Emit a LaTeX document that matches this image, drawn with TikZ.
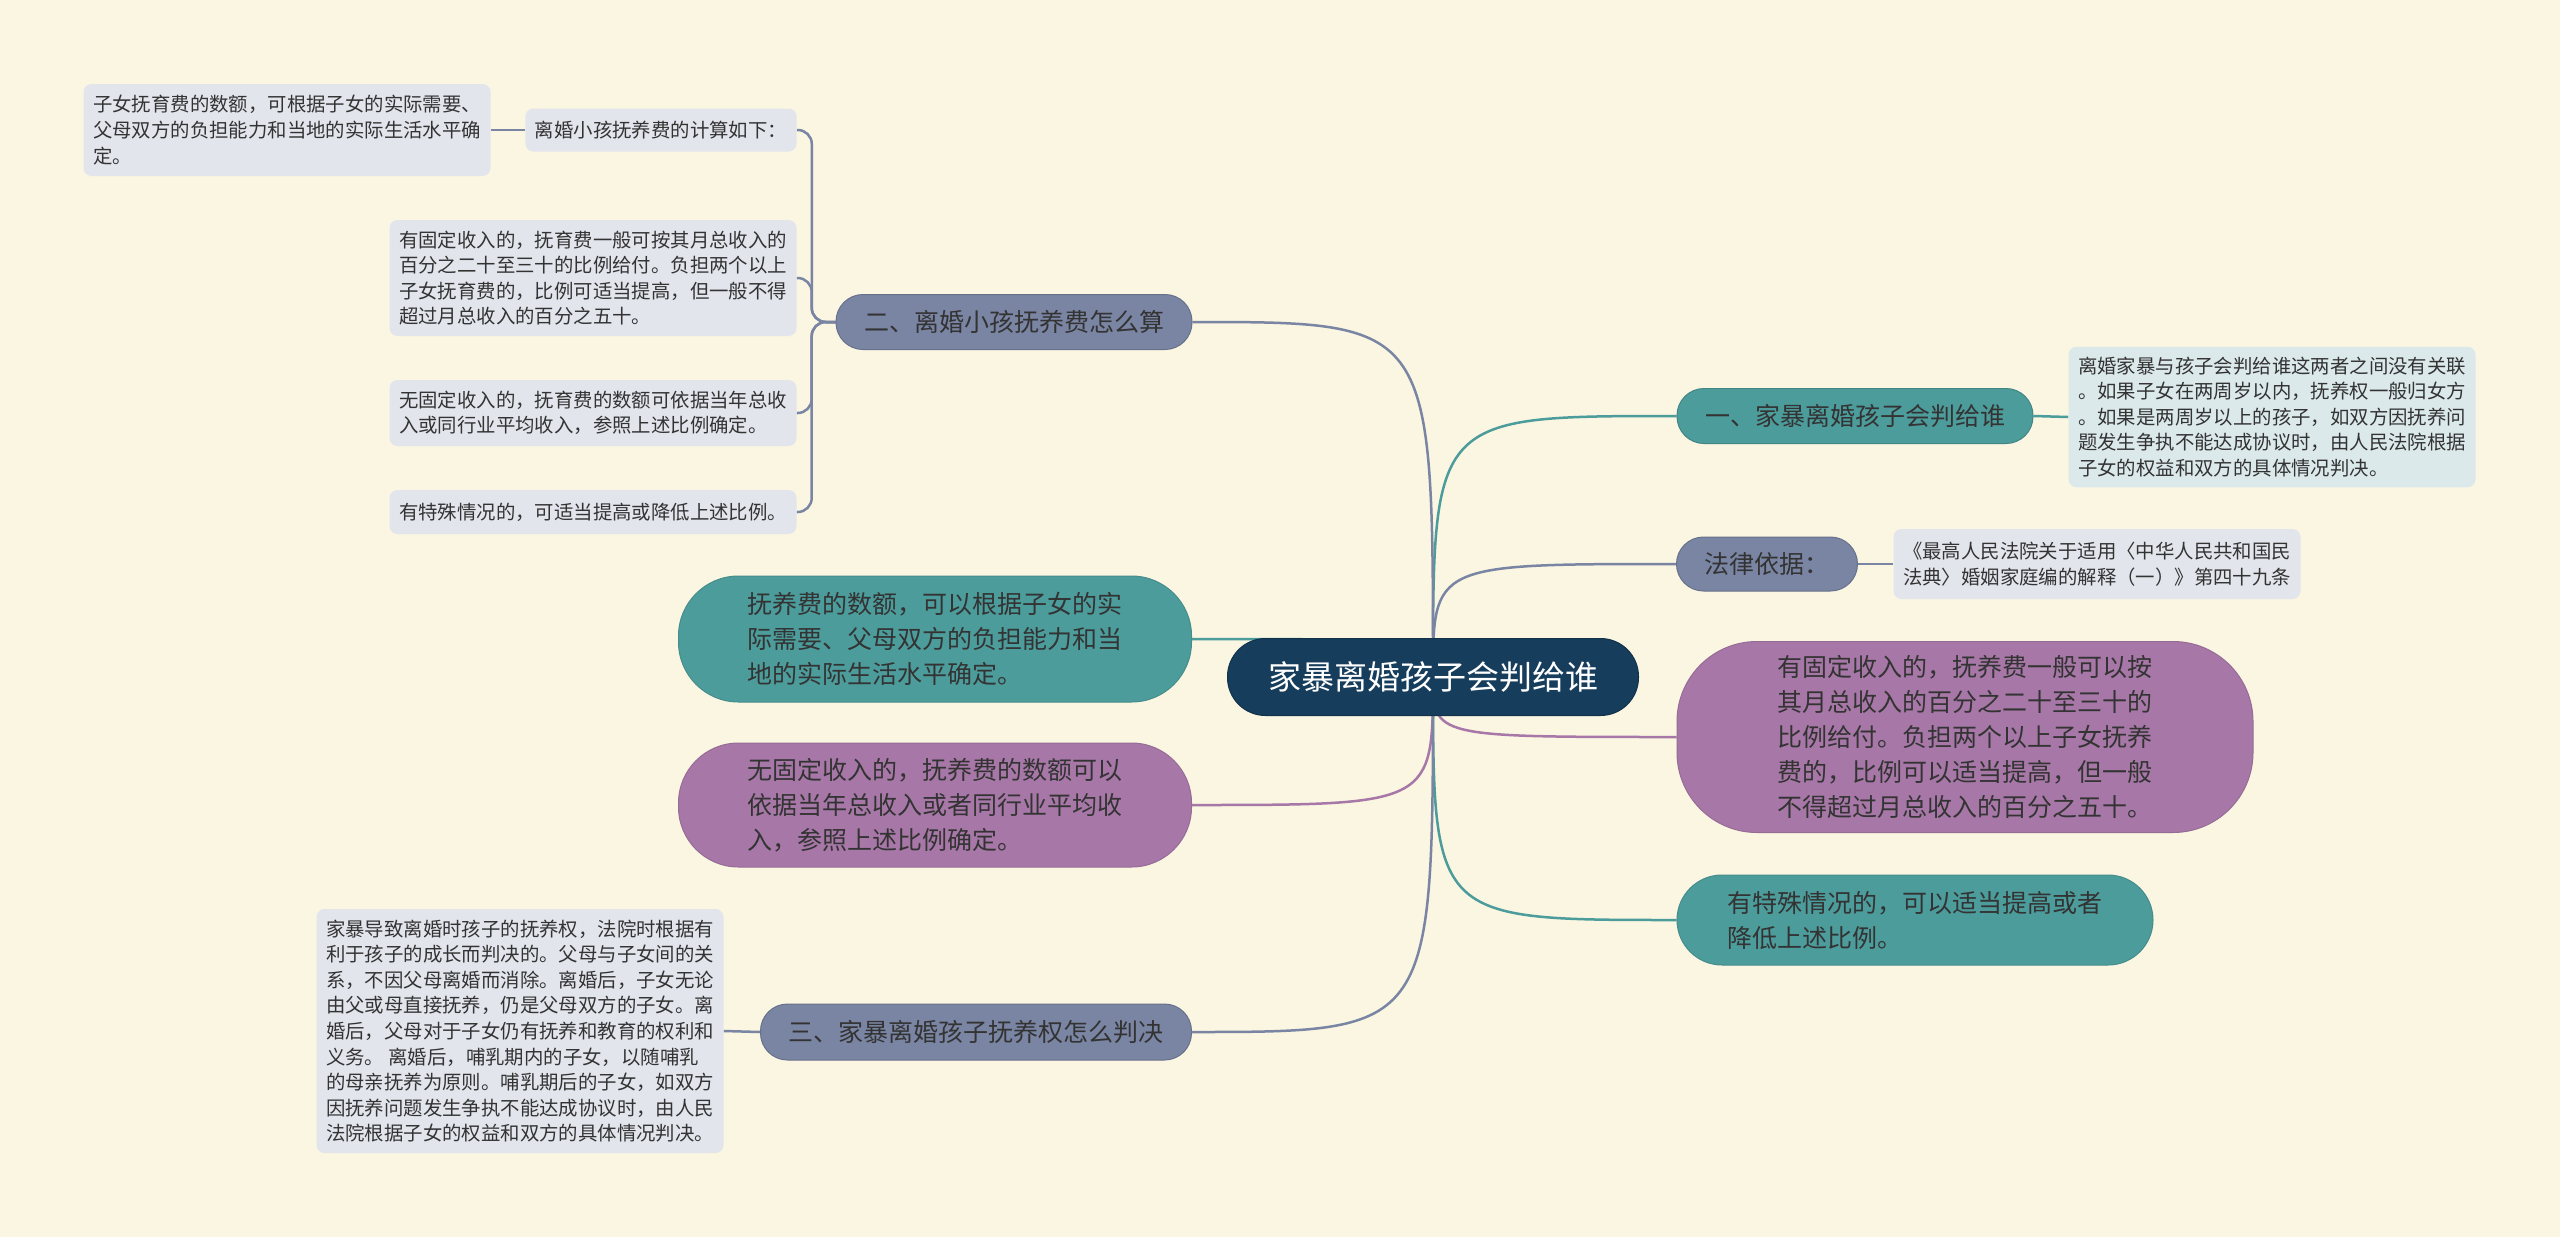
\documentclass[tikz,border=0pt]{standalone}
\usepackage{fontspec}
\setmainfont{Noto Sans CJK SC}
\usepackage{tikz}
\usepackage{xcolor}

\definecolor{bgcream}{HTML}{FAF6E2}
\definecolor{rootblue}{HTML}{173D5C}
\definecolor{tealc}{HTML}{4D9C9C}
\definecolor{purplec}{HTML}{A778A7}
\definecolor{greyblue}{HTML}{7A85A3}
\definecolor{leafgrey}{HTML}{E3E5ED}
\definecolor{leafblue}{HTML}{DCE9EB}
\definecolor{inkc}{HTML}{333333}

\pgfdeclarelayer{paper}
\pgfdeclarelayer{edges}
\pgfsetlayers{paper,edges,main}

\begin{document}
\begin{tikzpicture}[x=1pt,y=-1pt]

    %--- Node styles
    \tikzstyle{root node}=[fill=rootblue, draw=rootblue!80!black, line width=1pt, rounded corners=38pt,
        text=white, font=\fontsize{33}{40}\selectfont, minimum width=411pt, minimum height=77pt, inner sep=0pt]
    \tikzstyle{main node}=[draw=#1!85!black, fill=#1, line width=1pt, rounded corners=27pt, text=inkc,
        font=\fontsize{25}{35}\selectfont, minimum height=55pt, inner xsep=28pt, inner ysep=0pt]
    \tikzstyle{topic node}=[draw=#1!90!black, fill=#1, line width=1pt, rounded corners=60pt, text=inkc,
        font=\fontsize{25}{35}\selectfont, align=left, inner sep=0pt]
    \tikzstyle{leaf node}=[fill=#1, rounded corners=8pt, text=inkc,
        font=\fontsize{19.4}{25.6}\selectfont, align=left, inner xsep=9.5pt, inner ysep=10pt]
    %--- Edge styles
    \tikzstyle{link}=[draw=#1, line width=2.5pt]

    %--- Background
    \begin{pgfonlayer}{paper}
        \fill[bgcream] (0,0) rectangle (2560,1237);
    \end{pgfonlayer}

    %--- Root
    \node[root node] (R) at (1433,677) {家暴离婚孩子会判给谁};

    %--- Right side
    \node[main node=tealc] (B1) at (1855,416) {一、家暴离婚孩子会判给谁};
    \node[leaf node=leafblue, minimum width=406pt] (B1a) at (2272,417)
        {离婚家暴与孩子会判给谁这两者之间没有关联\\。如果子女在两周岁以内，抚养权一般归女方\\。如果是两周岁以上的孩子，如双方因抚养问\\题发生争执不能达成协议时，由人民法院根据\\子女的权益和双方的具体情况判决。};
    \node[main node=greyblue, minimum height=54pt] (Law) at (1767,564) {法律依据：};
    \node[leaf node=leafgrey, minimum width=406pt, minimum height=70pt] (Lawa) at (2097,564)
        {《最高人民法院关于适用〈中华人民共和国民\\法典〉婚姻家庭编的解释（一）》第四十九条};
    \node[topic node=purplec, rounded corners=80pt, minimum width=576pt, minimum height=191pt] (RP) at (1965,737)
        {有固定收入的，抚养费一般可以按\\其月总收入的百分之二十至三十的\\比例给付。负担两个以上子女抚养\\费的，比例可以适当提高，但一般\\不得超过月总收入的百分之五十。};
    \node[topic node=tealc, rounded corners=45pt, minimum width=476pt, minimum height=90pt] (RT) at (1915,920)
        {有特殊情况的，可以适当提高或者\\降低上述比例。};

    %--- Left side
    \node[main node=greyblue] (B2) at (1014,322) {二、离婚小孩抚养费怎么算};
    \node[leaf node=leafgrey, minimum height=43pt] (B2a) at (661,130) {离婚小孩抚养费的计算如下：};
    \node[leaf node=leafgrey, minimum width=407pt, minimum height=92pt] (B2a1) at (287,130)
        {子女抚育费的数额，可根据子女的实际需要、\\父母双方的负担能力和当地的实际生活水平确\\定。};
    \node[leaf node=leafgrey, minimum width=407pt, minimum height=116pt] (B2b) at (593,278)
        {有固定收入的，抚育费一般可按其月总收入的\\百分之二十至三十的比例给付。负担两个以上\\子女抚育费的，比例可适当提高，但一般不得\\超过月总收入的百分之五十。};
    \node[leaf node=leafgrey, minimum width=407pt, minimum height=66pt] (B2c) at (593,413)
        {无固定收入的，抚育费的数额可依据当年总收\\入或同行业平均收入，参照上述比例确定。};
    \node[leaf node=leafgrey, minimum width=407pt, minimum height=44pt] (B2d) at (593,512)
        {有特殊情况的，可适当提高或降低上述比例。};
    \node[topic node=tealc, minimum width=513pt, minimum height=126pt] (LT) at (935,639)
        {抚养费的数额，可以根据子女的实\\际需要、父母双方的负担能力和当\\地的实际生活水平确定。};
    \node[topic node=purplec, minimum width=513pt, minimum height=124pt] (LP) at (935,805)
        {无固定收入的，抚养费的数额可以\\依据当年总收入或者同行业平均收\\入，参照上述比例确定。};
    \node[main node=greyblue, minimum height=56pt] (B3) at (976,1032) {三、家暴离婚孩子抚养权怎么判决};
    \node[leaf node=leafgrey, minimum width=406pt, minimum height=244pt] (B3a) at (520,1031)
        {家暴导致离婚时孩子的抚养权，法院时根据有\\利于孩子的成长而判决的。父母与子女间的关\\系，不因父母离婚而消除。离婚后，子女无论\\由父或母直接抚养，仍是父母双方的子女。离\\婚后，父母对于子女仍有抚养和教育的权利和\\义务。 离婚后，哺乳期内的子女，以随哺乳\\的母亲抚养为原则。哺乳期后的子女，如双方\\因抚养问题发生争执不能达成协议时，由人民\\法院根据子女的权益和双方的具体情况判决。};

    %--- Connectors (under the nodes)
    \begin{pgfonlayer}{edges}
        % Root to branches
        \draw[link=tealc]    (R.center) .. controls (R.center |- B1.west) .. (B1.west);
        \draw[link=greyblue] (R.center) .. controls (R.center |- Law.west) .. (Law.west);
        \draw[link=purplec]  (R.center) .. controls (R.center |- RP.west) .. (RP.west);
        \draw[link=tealc]    (R.center) .. controls (R.center |- RT.west) .. (RT.west);
        \draw[link=greyblue] (R.center) .. controls (R.center |- B2.east) .. (B2.east);
        \draw[link=tealc]    (R.center) .. controls (R.center |- LT.east) .. (LT.east);
        \draw[link=purplec]  (R.center) .. controls (R.center |- LP.east) .. (LP.east);
        \draw[link=greyblue] (R.center) .. controls (R.center |- B3.east) .. (B3.east);

        % Branch to leaves
        \draw[link=tealc]    (B1.east) -- (B1a.west);
        \draw[link=greyblue] (Law.east) -- (Lawa.west);
        \draw[link=greyblue] (B3.west) -- (B3a.east);
        \draw[link=greyblue] (B2a.west) -- (B2a1.east);
        \foreach \leaf in {B2a,B2b,B2c,B2d}
            \draw[link=greyblue, rounded corners=14pt] (B2.west) -| ([xshift=15pt]\leaf.east) -- (\leaf.east);
    \end{pgfonlayer}

\end{tikzpicture}
\end{document}
